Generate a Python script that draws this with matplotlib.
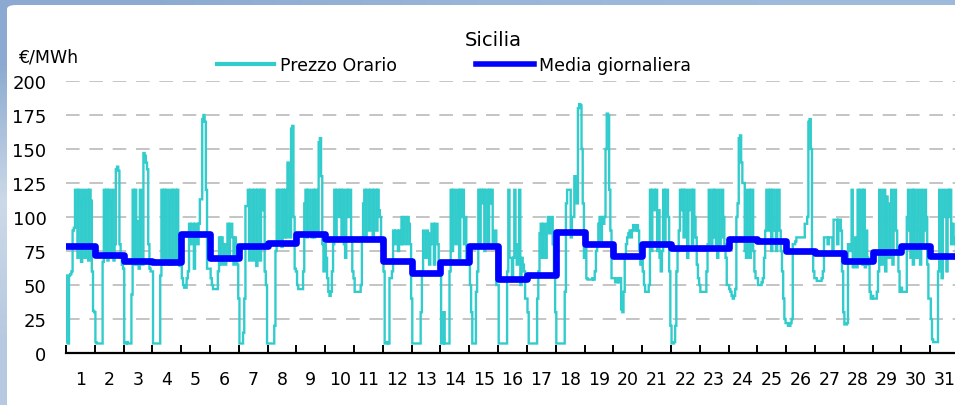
import numpy as np
import matplotlib
matplotlib.use("Agg")
import matplotlib.pyplot as plt
from matplotlib.patches import FancyBboxPatch

# ---------------- data ----------------
title = "Sicilia"
unit_label = "€/MWh"
series_names = ["Prezzo Orario", "Media giornaliera"]
day_labels = [str(d) for d in range(1, 32)]
y_ticks = [0, 25, 50, 75, 100, 125, 150, 175, 200]

# hourly prices (€/MWh), one list of 24 values per day
d01 = [57, 8, 7, 57, 58, 60, 90, 92, 120, 120, 70, 120, 112, 67, 120, 113, 70, 120, 120, 68, 120, 112, 60, 31]
d02 = [30, 8, 7, 7, 7, 7, 7, 67, 120, 70, 120, 68, 120, 111, 70, 120, 68, 80, 135, 137, 134, 80, 70, 65]
d03 = [62, 7, 7, 8, 7, 7, 7, 43, 120, 65, 120, 97, 65, 62, 120, 70, 65, 147, 145, 140, 135, 80, 62, 60]
d04 = [60, 7, 7, 7, 7, 7, 7, 57, 120, 65, 120, 66, 120, 120, 65, 113, 120, 65, 120, 120, 66, 120, 65, 64]
d05 = [68, 55, 50, 48, 48, 55, 60, 95, 80, 95, 95, 62, 95, 95, 80, 95, 113, 113, 172, 175, 170, 120, 62, 62]
d06 = [62, 55, 50, 47, 47, 47, 47, 60, 85, 65, 85, 80, 65, 65, 80, 95, 68, 95, 95, 85, 65, 85, 80, 65]
d07 = [40, 7, 7, 7, 15, 40, 108, 108, 120, 68, 120, 120, 68, 120, 120, 64, 120, 120, 68, 120, 105, 120, 60, 50]
d08 = [7, 7, 7, 7, 7, 7, 20, 75, 120, 80, 120, 120, 78, 120, 85, 120, 85, 140, 120, 85, 165, 167, 100, 62]
d09 = [60, 50, 47, 47, 47, 47, 60, 110, 120, 85, 120, 120, 90, 85, 120, 85, 120, 120, 90, 155, 158, 130, 80, 60]
d10 = [80, 70, 55, 45, 42, 45, 60, 80, 120, 85, 120, 120, 100, 120, 85, 120, 80, 70, 120, 100, 120, 120, 85, 60]
d11 = [55, 45, 45, 45, 45, 45, 50, 85, 110, 120, 85, 120, 120, 90, 120, 120, 85, 120, 120, 90, 120, 105, 100, 80]
d12 = [70, 60, 7, 7, 8, 7, 55, 55, 60, 90, 80, 90, 90, 75, 90, 80, 100, 80, 100, 100, 80, 100, 95, 80]
d13 = [40, 7, 7, 7, 7, 7, 7, 7, 30, 60, 90, 88, 70, 90, 88, 65, 80, 95, 95, 65, 95, 95, 80, 65]
d14 = [60, 7, 7, 30, 7, 7, 7, 7, 60, 120, 75, 120, 120, 80, 100, 120, 70, 120, 100, 120, 80, 100, 65, 65]
d15 = [65, 50, 30, 7, 7, 7, 45, 60, 120, 80, 120, 110, 120, 75, 120, 120, 80, 120, 110, 120, 80, 90, 90, 50]
d16 = [50, 7, 7, 7, 7, 7, 7, 7, 60, 120, 70, 70, 55, 70, 120, 80, 65, 70, 120, 50, 70, 65, 60, 40]
d17 = [40, 30, 7, 7, 7, 7, 7, 7, 7, 40, 60, 88, 95, 70, 95, 88, 70, 95, 100, 88, 95, 100, 80, 60]
d18 = [30, 7, 7, 7, 7, 7, 7, 7, 45, 110, 120, 120, 120, 85, 100, 100, 130, 120, 110, 180, 183, 182, 150, 110]
d19 = [70, 80, 55, 54, 54, 54, 54, 55, 54, 60, 75, 80, 95, 100, 80, 100, 95, 100, 150, 176, 175, 120, 90, 55]
d20 = [55, 55, 52, 52, 55, 52, 55, 32, 30, 45, 70, 80, 85, 88, 90, 85, 90, 94, 94, 90, 94, 90, 75, 65]
d21 = [70, 60, 50, 45, 45, 45, 50, 120, 75, 120, 120, 105, 120, 75, 105, 70, 60, 75, 120, 80, 120, 120, 100, 60]
d22 = [20, 7, 7, 8, 20, 60, 75, 90, 120, 105, 120, 85, 120, 120, 70, 105, 120, 120, 80, 120, 100, 85, 65, 55]
d23 = [50, 45, 45, 45, 45, 45, 60, 80, 120, 80, 80, 120, 85, 120, 80, 70, 120, 80, 85, 120, 100, 80, 70, 50]
d24 = [50, 47, 45, 42, 40, 42, 47, 100, 110, 158, 160, 140, 125, 125, 75, 70, 120, 120, 70, 120, 120, 75, 60, 55]
d25 = [55, 50, 50, 50, 52, 55, 70, 90, 120, 120, 90, 120, 75, 120, 120, 90, 75, 120, 120, 90, 75, 60, 40, 25]
d26 = [22, 22, 20, 20, 22, 25, 80, 80, 82, 85, 85, 85, 85, 85, 85, 85, 95, 95, 100, 170, 172, 150, 75, 60]
d27 = [55, 55, 53, 53, 53, 53, 55, 60, 85, 85, 85, 80, 85, 85, 85, 75, 98, 98, 98, 80, 98, 98, 90, 60]
d28 = [30, 21, 21, 22, 80, 80, 75, 120, 63, 70, 85, 63, 120, 70, 120, 120, 65, 120, 63, 90, 70, 65, 45, 40]
d29 = [42, 40, 40, 40, 45, 60, 120, 65, 65, 120, 120, 60, 115, 70, 70, 110, 120, 65, 100, 120, 90, 75, 60, 45]
d30 = [48, 45, 45, 45, 45, 100, 120, 90, 70, 120, 65, 120, 90, 70, 120, 90, 65, 120, 80, 90, 120, 100, 65, 40]
d31 = [40, 25, 10, 8, 8, 8, 8, 60, 120, 100, 55, 120, 120, 100, 60, 120, 100, 120, 80, 95, 85, 80, 70, 60]

# daily average (€/MWh)
daily_avg = [79, 72, 68, 67, 87.5, 70, 79, 81, 87.5, 84, 84, 68, 59, 67, 79, 54.5,
             57, 89, 80, 71.5, 80, 77, 77, 84, 82, 75, 73.5, 68, 74.5, 79, 71.5]

hourly = np.concatenate([d01, d02, d03, d04, d05, d06, d07, d08, d09, d10, d11, d12, d13,
                         d14, d15, d16, d17, d18, d19, d20, d21, d22, d23, d24, d25, d26,
                         d27, d28, d29, d30, d31]).astype(float)

# ---------------- styling ----------------
W, H = 955, 406
CYAN = "#33cccc"
BLUE = "#0000ff"
FONT = "DejaVu Sans"
plt.rcParams["font.family"] = [FONT]

fig = plt.figure(figsize=(W / 100, H / 100), dpi=100)

# decorative background (slide frame)
bg = fig.add_axes([0, 0, 1, 1], zorder=-10)
bg.set_axis_off()
grad = np.array([
    [[0.55, 0.67, 0.82], [0.60, 0.71, 0.85], [0.62, 0.73, 0.86]],
    [[0.80, 0.85, 0.91], [0.85, 0.89, 0.94], [0.85, 0.89, 0.94]],
    [[0.72, 0.79, 0.88], [0.80, 0.85, 0.91], [0.80, 0.85, 0.91]],
])
bg.imshow(grad, aspect="auto", interpolation="bilinear", extent=[0, 1, 0, 1])
bg.set_xlim(0, 1)
bg.set_ylim(0, 1)
panel = FancyBboxPatch((7 / W, -0.1), 1.1, 1 - 6 / H + 0.1,
                       boxstyle="round,pad=0,rounding_size=0.01",
                       transform=bg.transAxes, facecolor="white", edgecolor="none")
bg.add_patch(panel)

# main axes
x0 = 66 / W
ax_w = 893 / W
y_bottom = (H - 354) / H
ax_h = (354 - 82) / H
ax = fig.add_axes([x0, y_bottom, ax_w, ax_h])
ax.set_facecolor("none")

hours = np.arange(len(hourly))
ax.plot(hours, hourly, color=CYAN, lw=1.7, drawstyle="steps-mid",
        solid_joinstyle="miter", label=series_names[0], zorder=3)

day_edges = np.arange(len(daily_avg) + 1) * 24
ax.step(day_edges, list(daily_avg) + [daily_avg[-1]], where="post",
        color=BLUE, lw=4.8, label=series_names[1], zorder=4)

ax.set_xlim(0, 24 * 31)
ax.set_ylim(0, 200)

# grid
for yv in y_ticks[1:]:
    ax.axhline(yv, color="#c4c4c4", lw=1.4, dashes=(7, 5), zorder=1)

# spines
for s in ["left", "right", "top"]:
    ax.spines[s].set_visible(False)
ax.spines["bottom"].set_linewidth(1.6)
ax.spines["bottom"].set_color("black")
ax.spines["bottom"].set_zorder(5)

# ticks
ax.set_yticks(y_ticks)
ax.set_yticklabels([str(v) for v in y_ticks])
ax.tick_params(axis="y", length=0, pad=14, labelsize=13)

ax.set_xticks(day_edges)
ax.set_xticklabels([])
ax.tick_params(axis="x", which="major", direction="in", length=6, width=1.4, color="black")
ax.set_xticks(day_edges[:-1] + 12, minor=True)
ax.set_xticklabels(day_labels, minor=True)
ax.tick_params(axis="x", which="minor", length=0, pad=12, labelsize=12.5)

# title and unit
fig.text(493 / W, 1 - 41 / H, title, ha="center", va="center", fontsize=14)
fig.text(18 / W, 1 - 57 / H, unit_label, ha="left", va="center", fontsize=12.5)

# legend
leg = ax.legend(loc="center left", bbox_to_anchor=(217 / W, 1 - 66 / H),
                bbox_transform=fig.transFigure, ncol=2, frameon=False,
                fontsize=12.5, handlelength=3.3, handletextpad=0.3,
                columnspacing=4.6, borderpad=0, borderaxespad=0)
for line, lw in zip(leg.get_lines(), [3.0, 4.0]):
    line.set_linewidth(lw)
    line.set_drawstyle("default")

fig.savefig("out.png", dpi=100)
